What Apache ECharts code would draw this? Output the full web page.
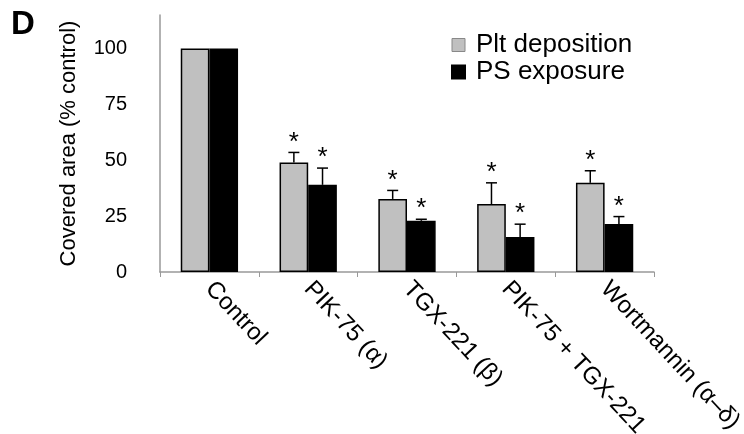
<!DOCTYPE html>
<html>
<head>
<meta charset="utf-8">
<script src="https://cdn.jsdelivr.net/npm/echarts@6/dist/echarts.min.js"></script>
<style>
	html, body {margin: 0; padding: 0; background: #fff;}
	#chart {width: 744px; height: 434px;}
</style>
</head>
<body>
<div id="chart"></div>
<script>
var categories = ['Control', 'PIK-75 (α)', 'TGX-221 (β)', 'PIK-75 + TGX-221', 'Wortmannin (α–δ)'];
var pltDeposition = [100, 49, 32.7, 30.4, 39.9];
var pltError = [0, 4.5, 3.8, 9.5, 5.4];
var psExposure = [100, 39, 22.9, 15.7, 21.5];
var psError = [0, 7.5, 0.7, 5.7, 3.3];
var pltStar = [false, true, true, true, true];
var psStar = [false, true, true, true, true];
var yTicks = [0, 25, 50, 75, 100];

var FONT = 'Liberation Sans, Arial, sans-serif';
var catGap = 0.42;

// error bar + asterisk, side = -1 for left bar, +1 for right bar
function errItem(side, values, errs, stars){
	return function(params, api){
		var i = api.value(0);
		var band = api.size([1, 0])[0];
		var bw = band * (1 - catGap) / 2;
		var base = api.coord([i, values[i]]);
		var x = base[0] + side * bw / 2;
		var top = api.coord([i, values[i] + errs[i]]);
		var children = [];
		if(errs[i] > 0){
			children.push({
				type: 'line',
				shape: {x1: x, y1: base[1], x2: x, y2: top[1]},
				style: {stroke: '#000', lineWidth: 1.5}
			});
			children.push({
				type: 'line',
				shape: {x1: x - 5.5, y1: top[1], x2: x + 5.5, y2: top[1]},
				style: {stroke: '#000', lineWidth: 1.5}
			});
		}
		if(stars[i]){
			children.push({
				type: 'text',
				style: {
					text: '*', x: x, y: top[1] + 3,
					align: 'center', verticalAlign: 'bottom',
					font: '26px ' + FONT, fill: '#000'
				}
			});
		}
		return {type: 'group', children: children};
	};
}

var chart = echarts.init(document.getElementById('chart'));
chart.setOption({
	animation: false,
	textStyle: {fontFamily: FONT},
	graphic: [{
		type: 'text', left: 11, top: 8,
		style: {text: 'D', font: 'bold 33px ' + FONT, fill: '#000'}
	}],
	legend: {
		orient: 'vertical',
		left: 446,
		top: 27,
		itemWidth: 13,
		itemHeight: 13,
		itemGap: 1,
		textStyle: {fontSize: 26, color: '#000', fontFamily: FONT, padding: [0, 0, 0, 6]},
		data: [
			{name: 'Plt deposition', icon: 'rect', itemStyle: {color: '#c0c0c0', borderColor: '#888', borderWidth: 1}},
			{name: 'PS exposure', icon: 'rect', itemStyle: {color: '#000'}}
		]
	},
	grid: {left: 160, right: 90, top: 15, bottom: 162, containLabel: false, outerBoundsMode: 'none'},
	xAxis: {
		type: 'category',
		data: categories,
		axisLine: {lineStyle: {color: '#999', width: 1.5}},
		axisTick: {show: true, length: 5, lineStyle: {color: '#999'}},
		axisLabel: {
			interval: 0, rotate: -47, fontSize: 24, color: '#000',
			fontFamily: FONT, margin: 13
		},
		splitLine: {show: false}
	},
	yAxis: {
		type: 'value',
		min: 0, max: 115, interval: 25,
		name: 'Covered area (% control)',
		nameLocation: 'middle',
		nameGap: 80,
		nameTextStyle: {fontSize: 22, color: '#000', fontFamily: FONT},
		axisLine: {show: true, lineStyle: {color: '#999', width: 1.5}},
		axisTick: {show: false},
		axisLabel: {
			fontSize: 20, color: '#000', fontFamily: FONT, margin: 33,
			showMaxLabel: false,
			formatter: function(v){ return yTicks.indexOf(v) >= 0 ? v : ''; }
		},
		splitLine: {show: false}
	},
	series: [{
		name: 'Plt deposition',
		type: 'bar',
		data: pltDeposition,
		barGap: '0%',
		barCategoryGap: (catGap * 100) + '%',
		itemStyle: {color: '#c0c0c0', borderColor: '#000', borderWidth: 1.5}
	}, {
		name: 'PS exposure',
		type: 'bar',
		data: psExposure,
		barGap: '0%',
		barCategoryGap: (catGap * 100) + '%',
		itemStyle: {color: '#000', borderColor: '#000', borderWidth: 1.5}
	}, {
		type: 'custom',
		silent: true,
		renderItem: errItem(-1, pltDeposition, pltError, pltStar),
		data: categories.map(function(c, i){ return [i]; }),
		z: 5
	}, {
		type: 'custom',
		silent: true,
		renderItem: errItem(1, psExposure, psError, psStar),
		data: categories.map(function(c, i){ return [i]; }),
		z: 5
	}]
});
</script>
</body>
</html>
